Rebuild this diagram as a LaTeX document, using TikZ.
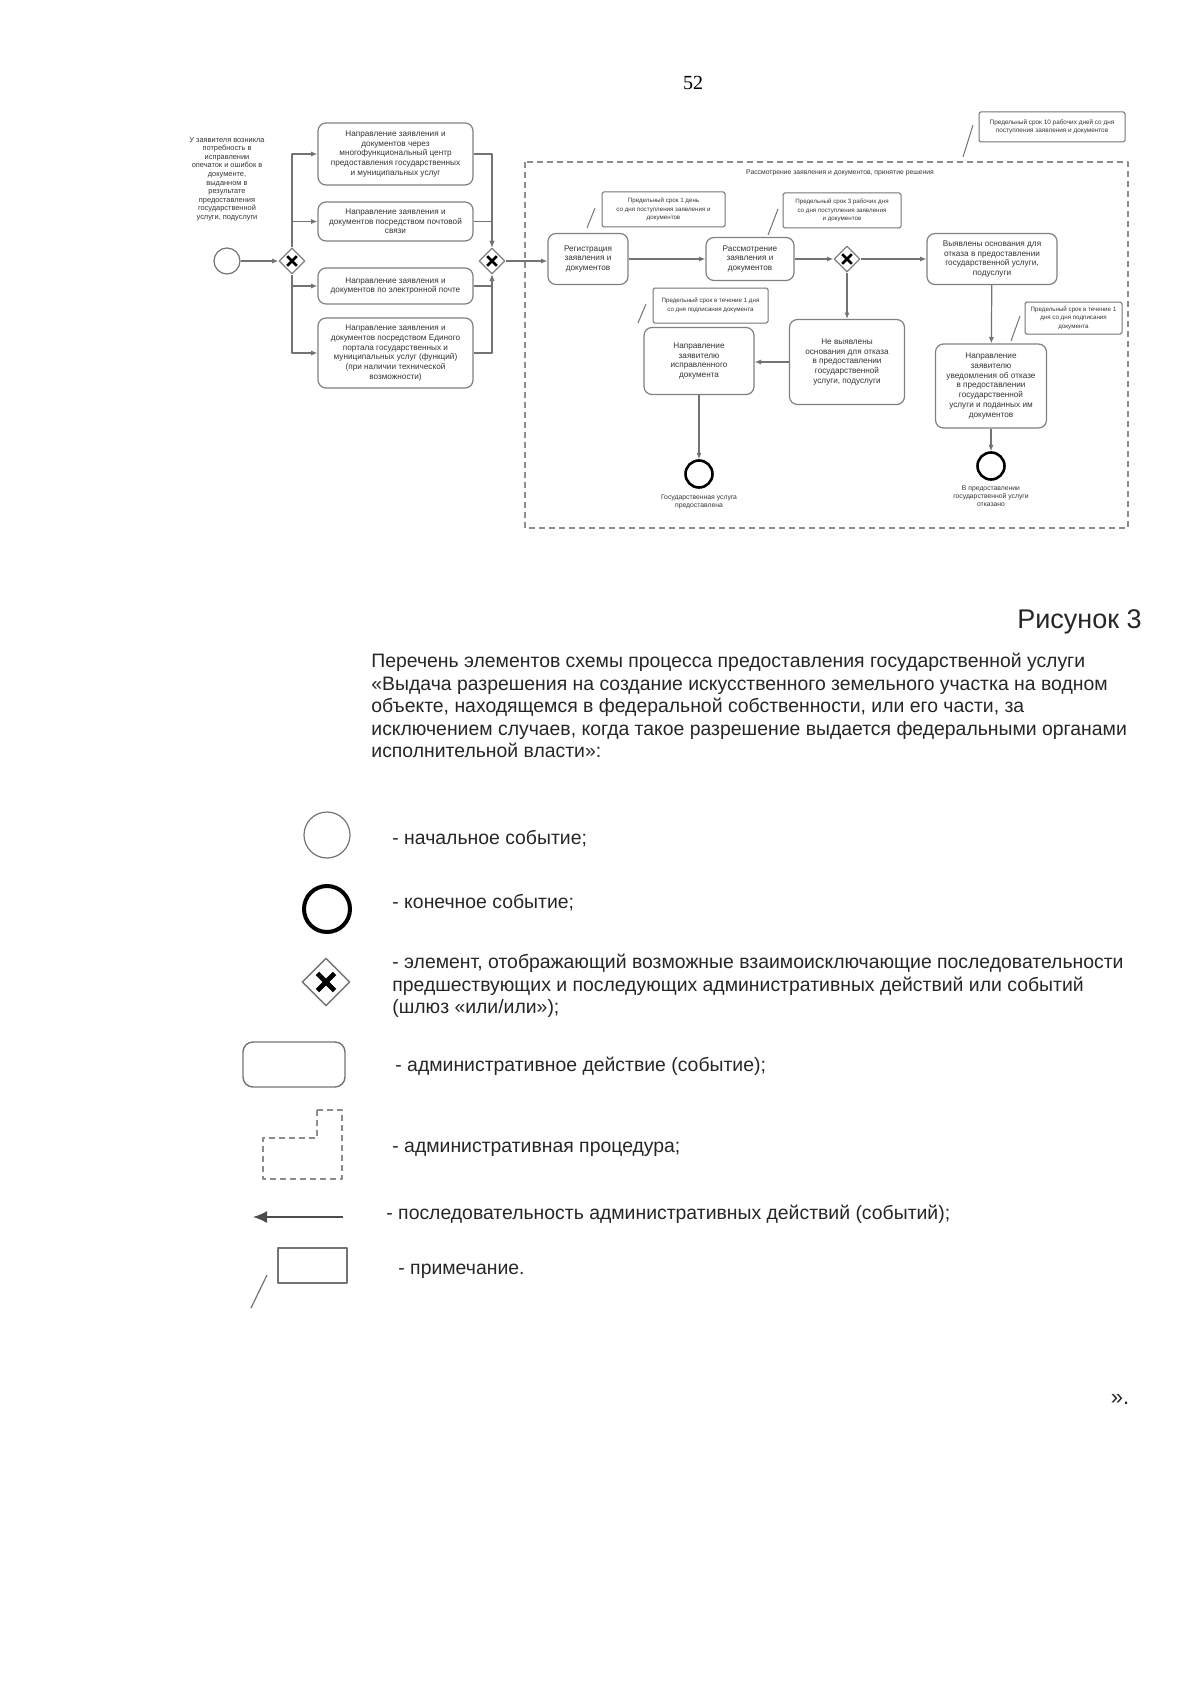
\documentclass[tikz,border=0pt]{standalone}
\usepackage{fontspec}
\setmainfont{Liberation Sans}
\newfontfamily\pagenumfont{Liberation Serif}
\usetikzlibrary{shapes.geometric,arrows.meta}

\tikzset{
  txt/.style={align=center, text=black!80, inner sep=0pt},
  act/.style={draw=black!50, rounded corners=4pt, line width=.6pt, align=center,
    text=black!80, font=\fontsize{4.1}{4.85}\selectfont, inner sep=1pt},
  memo/.style={draw=black!55, rounded corners=.8pt, line width=.5pt, align=center,
    text=black!80, font=\fontsize{3.1}{4.2}\selectfont, inner sep=1pt},
  gate/.style={diamond, draw=black!50, line width=.6pt, minimum width=13pt,
    minimum height=13pt, inner sep=0pt,
    path picture={\draw[black, line width=1.3pt]
      (path picture bounding box.center) ++(-2.4pt,-2.4pt) -- ++(4.8pt,4.8pt)
      (path picture bounding box.center) ++(-2.4pt,2.4pt) -- ++(4.8pt,-4.8pt);}},
  gatebig/.style={diamond, draw=black!55, line width=.7pt, minimum width=24pt,
    minimum height=24pt, inner sep=0pt,
    path picture={\draw[black, line width=2.4pt]
      (path picture bounding box.center) ++(-4.3pt,-4.3pt) -- ++(8.6pt,8.6pt)
      (path picture bounding box.center) ++(-4.3pt,4.3pt) -- ++(8.6pt,-8.6pt);}},
  evstart/.style={circle, draw=black!55, line width=.6pt, minimum size=13pt, inner sep=0pt},
  evend/.style={circle, draw=black, line width=1.3pt, minimum size=13.5pt, inner sep=0pt},
  flow/.style={draw=black!55, line width=.6pt, ->},
  lead/.style={draw=black!55, line width=.5pt},
  proc/.style={draw=black!45, line width=.8pt, dash pattern=on 3pt off 2pt},
  lgtext/.style={anchor=west, font=\fontsize{9.7}{11.25}\selectfont, text=black!85,
    inner sep=0pt, align=left}
}

\begin{document}
\begin{tikzpicture}[x=0.5pt, y=-0.5pt, line join=round, >={Latex[length=3.2pt,width=2.6pt]}]
\useasboundingbox (0,0) rectangle (1200,1696);

\node[font=\pagenumfont\fontsize{10}{12}\selectfont] (pagenum) at (693,83) {52};

% receiving of the application
\node[txt, font=\fontsize{3.7}{4.3}\selectfont] (need) at (227,179)
  {У заявителя возникла\\потребность в\\исправлении\\опечаток и ошибок в\\документе,\\выданном в\\результате\\предоставления\\государственной\\услуги, подуслуги};
\node[evstart] (s0) at (227,261) {};
\node[gate] (g1) at (292,261) {};
\node[act, minimum width=77.5pt, minimum height=31pt] (b1) at (395.5,154)
  {Направление заявления и\\документов через\\многофункциональный центр\\предоставления государственных\\и муниципальных услуг};
\node[act, minimum width=77.5pt, minimum height=19.5pt] (b2) at (395.5,221.5)
  {Направление заявления и\\документов посредством почтовой\\связи};
\node[act, minimum width=77.5pt, minimum height=18pt] (b3) at (395.5,286)
  {Направление заявления и\\документов по электронной почте};
\node[act, minimum width=77.5pt, minimum height=35pt] (b4) at (395.5,353)
  {Направление заявления и\\документов посредством Единого\\портала государственных и\\муниципальных услуг (функций)\\(при наличии технической\\возможности)};
\node[gate] (g2) at (492,261) {};

\draw[flow] (s0) -- (g1);
\draw[flow] (g1.north) |- (b1.west);
\draw[flow] (g1.north) |- (b2.west);
\draw[flow] (g1.south) |- (b3.west);
\draw[flow] (g1.south) |- (b4.west);
\draw[flow] (b1.east) -| (g2.north);
\draw[flow] (b2.east) -| (g2.north);
\draw[flow] (b3.east) -| (g2.south);
\draw[flow] (b4.east) -| (g2.south);

% procedure
\draw[proc] (525,162) rectangle (1128,528);
\node[txt, font=\fontsize{3.4}{4.2}\selectfont] (ptitle) at (840,173)
  {Рассмотрение заявления и документов, принятие решения};
\node[memo, font=\fontsize{3.2}{4.2}\selectfont, minimum width=73pt, minimum height=15pt] (n0) at (1052,127)
  {Предельный срок 10 рабочих дней со дня\\поступления заявления и документов};
\draw[lead] (973,125) -- (963,157);

\node[act, minimum width=40pt, minimum height=25.5pt] (reg) at (588,259)
  {Регистрация\\заявления и\\документов};
\node[memo, minimum width=61.5pt, minimum height=17.5pt] (n1) at (663.5,209.5)
  {Предельный срок 1 день\\со дня поступления заявления и\\документов};
\draw[lead] (595,208) -- (587,228);
\node[act, minimum width=44pt, minimum height=21.5pt] (rev) at (750,259)
  {Рассмотрение\\заявления и\\документов};
\node[memo, minimum width=59pt, minimum height=17.5pt] (n2) at (842,210.5)
  {Предельный срок 3 рабочих дня\\со дня поступления заявления\\и документов};
\draw[lead] (778,209) -- (768,235);
\node[gate] (g3) at (847,259) {};
\node[act, minimum width=65pt, minimum height=25.5pt] (yes) at (992,259)
  {Выявлены основания для\\отказа в предоставлении\\государственной услуги,\\подуслуги};
\node[act, minimum width=57.5pt, minimum height=42.5pt] (no) at (847,362)
  {Не выявлены\\основания для отказа\\в предоставлении\\государственной\\услуги, подуслуги};
\node[act, minimum width=55pt, minimum height=33.5pt] (fix) at (699,361)
  {Направление\\заявителю\\исправленного\\документа};
\node[memo, minimum width=57.5pt, minimum height=17.5pt] (n3) at (710.5,305.5)
  {Предельный срок в течение 1 дня\\со дня подписания документа};
\draw[lead] (646,304) -- (638,323);
\node[act, minimum width=55.5pt, minimum height=42pt] (deny) at (991,386)
  {Направление\\заявителю\\уведомления об отказе\\в предоставлении\\государственной\\услуги и поданных им\\документов};
\node[memo, minimum width=48.5pt, minimum height=16pt] (n4) at (1073.5,318)
  {Предельный срок в течение 1\\дня со дня подписания\\документа};
\draw[lead] (1020,316) -- (1011,341);
\node[evend] (e1) at (699,474) {};
\node[txt, font=\fontsize{3.4}{4.1}\selectfont, anchor=north] (e1t) at (699,494)
  {Государственная услуга\\предоставлена};
\node[evend] (e2) at (991,466) {};
\node[txt, font=\fontsize{3.4}{4.1}\selectfont, anchor=north] (e2t) at (991,485)
  {В предоставлении\\государственной услуги\\отказано};

\draw[flow] (g2.east) -- (g2.east -| reg.west);
\draw[flow] (reg) -- (rev);
\draw[flow] (rev) -- (g3);
\draw[flow] (g3) -- (yes);
\draw[flow] (g3) -- (no);
\draw[flow] (no.west) -- (no.west -| fix.east);
\draw[flow] (fix) -- (e1);
\draw[flow] (yes) -- (deny);
\draw[flow] (deny) -- (e2);

% caption and legend
\node[anchor=east, font=\fontsize{13.5}{16}\selectfont, text=black!85, inner sep=0pt] (fig) at (1142,622) {Рисунок 3};
\node[anchor=north west, align=left, font=\fontsize{9.7}{11.25}\selectfont, text=black!85, inner sep=0pt] (intro) at (371,653)
  {Перечень элементов схемы процесса предоставления государственной услуги\\
   «Выдача разрешения на создание искусственного земельного участка на водном\\
   объекте, находящемся в федеральной собственности, или его части, за\\
   исключением случаев, когда такое разрешение выдается федеральными органами\\
   исполнительной власти»:};

\node[evstart, minimum size=23pt] (lstart) at (327,835) {};
\node[lgtext] (lstartt) at (392,839) {- начальное событие;};
\node[evend, minimum size=23pt, line width=2pt] (lend) at (327,909) {};
\node[lgtext] (lendt) at (392,903) {- конечное событие;};
\node[gatebig] (lgate) at (326,982) {};
\node[lgtext, anchor=north west] (lgatet) at (392,954)
  {- элемент, отображающий возможные взаимоисключающие последовательности\\
   предшествующих и последующих административных действий или событий\\
   (шлюз «или/или»);};
\node[draw=black!55, line width=.7pt, rounded corners=5pt, minimum width=51pt, minimum height=22.5pt] (lact) at (294,1064.5) {};
\node[lgtext] (lactt) at (395,1066) {- административное действие (событие);};
\draw[proc, line width=.6pt] (317,1110) -- (342,1110) -- (342,1179) -- (263,1179) -- (263,1138) -- (317,1138) -- cycle;
\node[lgtext] (lproct) at (392,1149) {- административная процедура;};
\coordinate (la1) at (343,1217);
\coordinate (la2) at (253,1217);
\draw[black!70, line width=.8pt, -{Latex[length=7pt,width=6pt]}] (la1) -- (la2);
\node[lgtext] (larrt) at (386,1214) {- последовательность административных действий (событий);};
\node[draw=black!55, line width=.7pt, minimum width=34.5pt, minimum height=17.5pt] (lnote) at (312.5,1265.5) {};
\draw[lead, line width=.6pt] (267,1275) -- (251,1308);
\node[lgtext] (lnotet) at (398,1271) {- примечание.};

\node[font=\fontsize{11}{13}\selectfont, text=black!85] (endq) at (1120,1399) {».};
\end{tikzpicture}
\end{document}
